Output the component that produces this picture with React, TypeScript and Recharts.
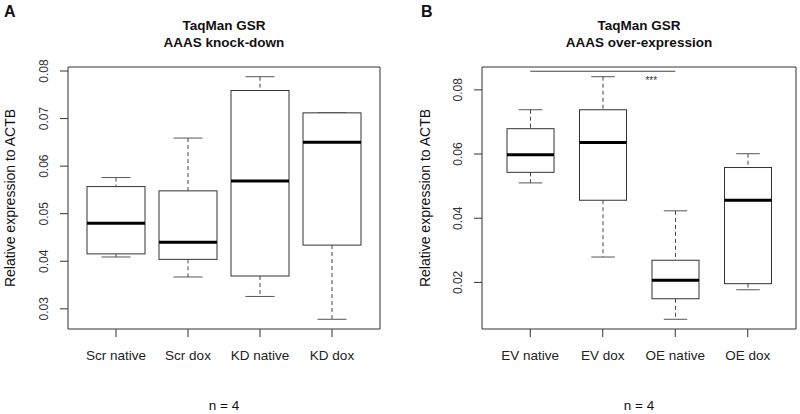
import React from "react";
import {
  ComposedChart,
  Bar,
  Line,
  XAxis,
  YAxis,
  ReferenceLine,
  ReferenceDot,
} from "recharts";

// ---------- data ----------
const groupsA = ["Scr native", "Scr dox", "KD native", "KD dox"];
const minA = [0.0409, 0.0367, 0.0326, 0.0278];
const q1A = [0.04155, 0.0404, 0.0369, 0.0434];
const medA = [0.048, 0.044, 0.0569, 0.065];
const q3A = [0.0557, 0.0548, 0.0759, 0.0712];
const maxA = [0.0576, 0.0659, 0.0788, 0.0712];
const ticksA = [0.03, 0.04, 0.05, 0.06, 0.07, 0.08];

const groupsB = ["EV native", "EV dox", "OE native", "OE dox"];
const minB = [0.051, 0.0279, 0.0085, 0.0177];
const q1B = [0.0543, 0.0456, 0.0149, 0.0196];
const medB = [0.0598, 0.0636, 0.0207, 0.0456];
const q3B = [0.0679, 0.0738, 0.0269, 0.0558];
const maxB = [0.0738, 0.0841, 0.0423, 0.0601];
const ticksB = [0.02, 0.04, 0.06, 0.08];

const sigFrom = "EV native";
const sigTo = "OE native";
const sigLevel = 0.0858;
const sigStarsLevel = 0.083;
const sigStars = "***";

const titleLine1 = "TaqMan GSR";
const titleA = "AAAS knock-down";
const titleB = "AAAS over-expression";
const yLabel = "Relative expression to ACTB";
const nLabel = "n = 4";

// ---------- helpers ----------
const FONT = '"Liberation Sans", Arial, Helvetica, sans-serif';
const LINE = "#333";

type Row = { name: string; min: number; q1: number; median: number; q3: number; max: number };

function makeRows(g: string[], mn: number[], a: number[], m: number[], b: number[], mx: number[]): Row[] {
  return g.map((name, i) => ({ name, min: mn[i], q1: a[i], median: m[i], q3: b[i], max: mx[i] }));
}

function rDomain(mn: number[], mx: number[]): [number, number] {
  const lo = Math.min(...mn);
  const hi = Math.max(...mx);
  const ext = (hi - lo) * 0.04;
  return [lo - ext, hi + ext];
}

const rowsA = makeRows(groupsA, minA, q1A, medA, q3A, maxA);
const rowsB = makeRows(groupsB, minB, q1B, medB, q3B, maxB);

const BoxShape = (props: any) => {
  const { x, y, width, height, payload } = props;
  if (!payload || height == null) return null;
  const { min, q1, median, q3, max } = payload as Row;
  const span = max - min || 1;
  const py = (v: number) => y + (height * (max - v)) / span;
  const cx = x + width / 2;
  const cap = width / 2;
  const yMax = py(max);
  const yMin = py(min);
  const yQ3 = py(q3);
  const yQ1 = py(q1);
  const yMed = py(median);
  return (
    <g>
      <line x1={cx} x2={cx} y1={yMax} y2={yQ3} stroke="#444" strokeWidth={1} strokeDasharray="4 3" />
      <line x1={cx} x2={cx} y1={yQ1} y2={yMin} stroke="#444" strokeWidth={1} strokeDasharray="4 3" />
      <line x1={cx - cap / 2} x2={cx + cap / 2} y1={yMax} y2={yMax} stroke="#555" strokeWidth={1} />
      <line x1={cx - cap / 2} x2={cx + cap / 2} y1={yMin} y2={yMin} stroke="#555" strokeWidth={1} />
      <rect x={x} y={yQ3} width={width} height={yQ1 - yQ3} fill="#fff" stroke={LINE} strokeWidth={1} />
      <line x1={x} x2={x + width} y1={yMed} y2={yMed} stroke="#000" strokeWidth={3} />
    </g>
  );
};

const YTick = (props: any) => {
  const { x, y, payload } = props;
  const tx = x - 12;
  return (
    <text
      x={tx}
      y={y}
      transform={`rotate(-90 ${tx} ${y})`}
      textAnchor="middle"
      fontSize={12}
      fill="#333"
      fontFamily={FONT}
    >
      {Number(payload.value).toFixed(2)}
    </text>
  );
};

const XTick = (props: any) => {
  const { x, y, payload } = props;
  return (
    <text x={x} y={y + 22.5} textAnchor="middle" fontSize={13.5} fill="#222" fontFamily={FONT}>
      {payload.value}
    </text>
  );
};

type PanelProps = {
  rows: Row[];
  ticks: number[];
  domain: [number, number];
  yWidth: number;
  right: number;
  barSize: number;
  children?: React.ReactNode;
};

const Panel = ({ rows, ticks, domain, yWidth, right, barSize, children }: PanelProps) => (
  <ComposedChart
    width={400}
    height={414}
    data={rows}
    margin={{ top: 66, right: right - 1, bottom: 55, left: 0 }}
  >
    <XAxis
      dataKey="name"
      type="category"
      height={30}
      padding={{ left: 12, right: 12 }}
      tickSize={8}
      tickMargin={0}
      tick={<XTick />}
      stroke={LINE}
      interval={0}
    />
    <XAxis
      xAxisId="top"
      dataKey="name"
      orientation="top"
      height={1}
      tick={false}
      tickLine={false}
      stroke={LINE}
    />
    <YAxis
      type="number"
      domain={domain}
      ticks={ticks}
      width={yWidth}
      tickSize={8}
      tickMargin={0}
      tick={<YTick />}
      stroke={LINE}
      allowDataOverflow
    />
    <YAxis
      yAxisId="right"
      orientation="right"
      type="number"
      domain={domain}
      width={1}
      tick={false}
      tickLine={false}
      stroke={LINE}
      allowDataOverflow
    />
    <Line
      xAxisId="top"
      yAxisId="right"
      dataKey="median"
      stroke="none"
      dot={false}
      activeDot={false}
      legendType="none"
      isAnimationActive={false}
    />
    <Bar
      dataKey={(d: Row) => [d.min, d.max]}
      barSize={barSize}
      shape={(p: any) => <BoxShape {...p} />}
      isAnimationActive={false}
    />
    {children}
  </ComposedChart>
);

const txt = { fontFamily: FONT, fill: "#111" } as const;

export default function App() {
  const domA = rDomain(minA, maxA);
  const domB = rDomain(minB, maxB);
  return (
    <div style={{ position: "absolute", left: 0, top: 0, width: 800, height: 414, background: "#fff" }}>
      <div style={{ position: "absolute", left: 0, top: 0 }}>
        <Panel rows={rowsA} ticks={ticksA} domain={domA} yWidth={68} right={20} barSize={58} />
      </div>
      <div style={{ position: "absolute", left: 400, top: 0 }}>
        <Panel rows={rowsB} ticks={ticksB} domain={domB} yWidth={82} right={4} barSize={47}>
          <ReferenceLine
            segment={[
              { x: sigFrom, y: sigLevel },
              { x: sigTo, y: sigLevel },
            ]}
            stroke="#444"
            strokeWidth={1}
          />
          <ReferenceDot
            x={sigTo}
            y={sigStarsLevel}
            r={0}
            fill="none"
            stroke="none"
            label={(p: any) => {
              const vb = p.viewBox || {};
              const cx = (vb.x ?? 0) + (vb.width ?? 0) / 2;
              const cy = (vb.y ?? 0) + (vb.height ?? 0) / 2;
              return (
                <text x={cx - 24} y={cy + 4} textAnchor="middle" fontSize={10} fill="#333" fontFamily={FONT}>
                  {sigStars}
                </text>
              );
            }}
          />
        </Panel>
      </div>
      <svg
        width={800}
        height={414}
        style={{ position: "absolute", left: 0, top: 0, pointerEvents: "none" }}
      >
        <text x={4} y={17} fontSize={16} fontWeight="bold" {...txt}>A</text>
        <text x={421} y={17} fontSize={16} fontWeight="bold" {...txt}>B</text>
        <text x={224} y={30} fontSize={13.5} fontWeight="bold" textAnchor="middle" {...txt}>{titleLine1}</text>
        <text x={224} y={46.7} fontSize={13.5} fontWeight="bold" textAnchor="middle" {...txt}>{titleA}</text>
        <text x={639} y={30} fontSize={13.5} fontWeight="bold" textAnchor="middle" {...txt}>{titleLine1}</text>
        <text x={639} y={46.7} fontSize={13.5} fontWeight="bold" textAnchor="middle" {...txt}>{titleB}</text>
        <text transform="translate(15 198) rotate(-90)" fontSize={14} textAnchor="middle" {...txt}>{yLabel}</text>
        <text transform="translate(430 198) rotate(-90)" fontSize={14} textAnchor="middle" {...txt}>{yLabel}</text>
        <text x={224} y={410} fontSize={13.5} textAnchor="middle" {...txt}>{nLabel}</text>
        <text x={639} y={410} fontSize={13.5} textAnchor="middle" {...txt}>{nLabel}</text>
      </svg>
    </div>
  );
}
